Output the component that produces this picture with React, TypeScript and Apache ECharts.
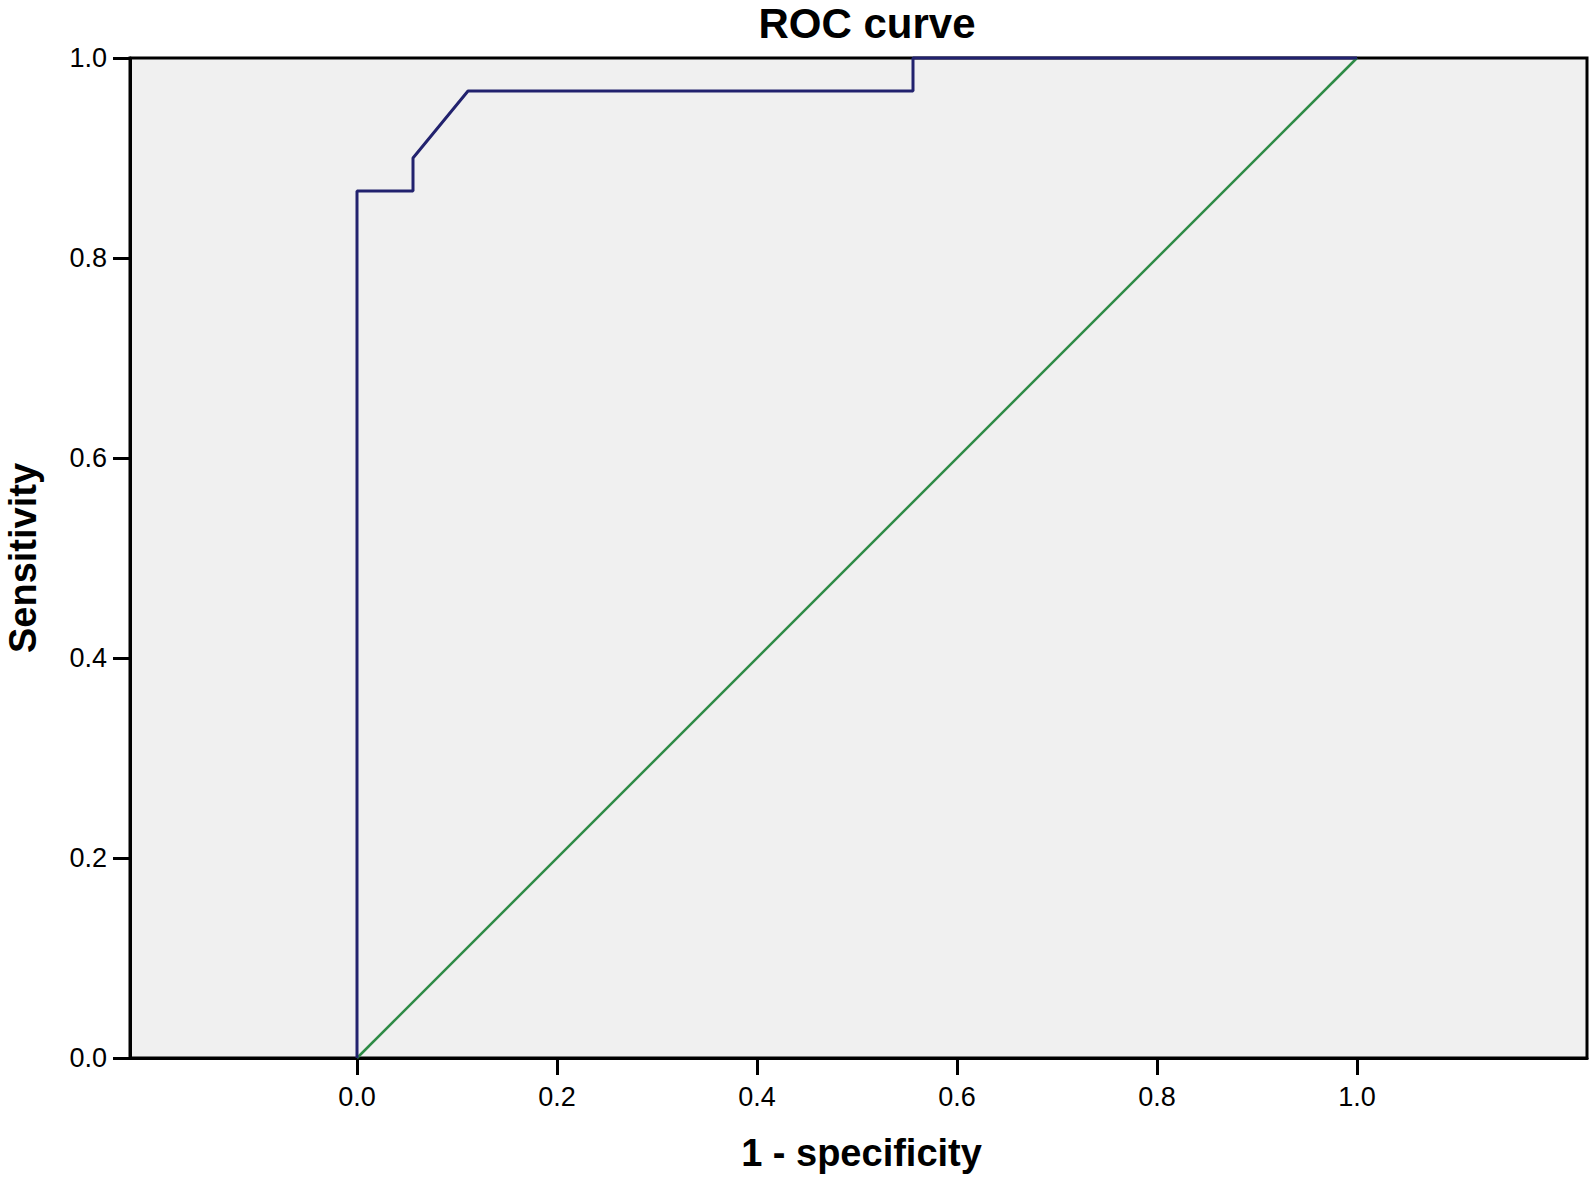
import React, { useEffect, useRef } from "react";
import * as echarts from "echarts";

// ROC curve points (1 - specificity, sensitivity)
const fprValues = [0, 0, 0.056, 0.056, 0.111, 0.556, 0.556, 1.0];
const tprValues = [0, 0.867, 0.867, 0.9, 0.967, 0.967, 1.0, 1.0];
// Reference (chance) line
const refX = [0, 1];
const refY = [0, 1];
// Tick labels
const xTicks = [0, 0.2, 0.4, 0.6, 0.8, 1.0];
const yTicks = [0, 0.2, 0.4, 0.6, 0.8, 1.0];

const titleText = "ROC curve";
const xName = "1 - specificity";
const yName = "Sensitivity";

const FONT = "'Liberation Sans', Arial, sans-serif";

export default function App() {
  const ref = useRef<HTMLDivElement>(null);
  useEffect(() => {
    document.body.style.margin = "0";
    if (!ref.current) return;
    const chart = echarts.init(ref.current, undefined, { renderer: "svg" });
    const roc = fprValues.map((x, i) => [x, tprValues[i]]);
    const diag = refX.map((x, i) => [x, refY[i]]);
    chart.setOption({
      animation: false,
      backgroundColor: "#ffffff",
      textStyle: { fontFamily: FONT },
      grid: {
        left: 130,
        right: 7,
        top: 58,
        bottom: 121,
        containLabel: false,
        outerBoundsMode: "none",
        show: true,
        backgroundColor: "#f0f0f0",
        borderColor: "#000",
        borderWidth: 3,
      },
      graphic: [
        {
          type: "text",
          x: 867,
          y: 23,
          style: {
            text: titleText,
            fontSize: 42,
            fontWeight: "bold",
            fontFamily: FONT,
            fill: "#000",
            align: "center",
            verticalAlign: "middle",
          },
        },
      ],
      xAxis: {
        type: "value",
        min: -0.227,
        max: 1.23,
        name: xName,
        nameLocation: "middle",
        nameGap: 76,
        nameTextStyle: { fontSize: 38, fontWeight: "bold", color: "#000", fontFamily: FONT, padding: [0, 0, 0, 6] },
        axisLine: { show: true, onZero: false, lineStyle: { color: "#000", width: 3 } },
        axisTick: {
          show: true,
          length: 17,
          customValues: xTicks,
          lineStyle: { color: "#000", width: 3 },
        },
        axisLabel: {
          customValues: xTicks,
          formatter: (v: number) => v.toFixed(1),
          fontSize: 27,
          color: "#000",
          margin: 25,
          fontFamily: FONT,
        },
        splitLine: { show: false },
      },
      yAxis: {
        type: "value",
        min: 0,
        max: 1,
        interval: 0.2,
        name: yName,
        nameLocation: "middle",
        nameGap: 88,
        nameTextStyle: { fontSize: 38, fontWeight: "bold", color: "#000", fontFamily: FONT },
        axisLine: { show: true, onZero: false, lineStyle: { color: "#000", width: 3 } },
        axisTick: { show: true, length: 17, lineStyle: { color: "#000", width: 3 } },
        axisLabel: {
          formatter: (v: number) => (yTicks.includes(Math.round(v * 10) / 10) ? v.toFixed(1) : ""),
          fontSize: 27,
          color: "#000",
          margin: 23,
          padding: [6, 0, 0, 0],
          fontFamily: FONT,
        },
        splitLine: { show: false },
      },
      series: [
        {
          type: "line",
          name: "Reference",
          data: diag,
          showSymbol: false,
          symbol: "none",
          clip: false,
          lineStyle: { color: "#2e8b46", width: 2.5 },
          z: 2,
        },
        {
          type: "line",
          name: "ROC",
          data: roc,
          showSymbol: false,
          symbol: "none",
          clip: false,
          lineStyle: { color: "#22226e", width: 3 },
          z: 3,
        },
      ],
    });
    return () => chart.dispose();
  }, []);
  return <div ref={ref} style={{ width: 1594, height: 1179 }} />;
}
